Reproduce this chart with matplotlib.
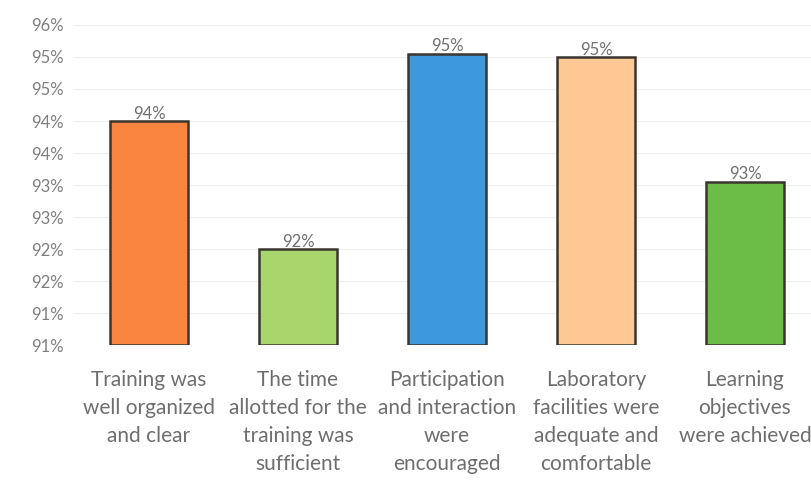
import matplotlib
matplotlib.use("Agg")
import matplotlib.pyplot as plt
from matplotlib.ticker import FuncFormatter, MultipleLocator

categories = [
    "Training was\nwell organized\nand clear",
    "The time\nallotted for the\ntraining was\nsufficient",
    "Participation\nand interaction\nwere\nencouraged",
    "Laboratory\nfacilities were\nadequate and\ncomfortable",
    "Learning\nobjectives\nwere achieved",
]
values = [94.0, 92.0, 95.05, 95.0, 93.05]
value_labels = ["94%", "92%", "95%", "95%", "93%"]
colors = ["#FA8540", "#A8D56C", "#3D98DC", "#FDC894", "#6CBD47"]

plt.rcParams['font.family'] = ['Lato', 'DejaVu Sans']

fig = plt.figure(figsize=(8.12, 4.8), dpi=100)
ax = fig.add_axes([0.0917, 0.281, 0.9175, 0.667])

ymin, ymax = 90.5, 95.5
x = list(range(len(categories)))
bars = ax.bar(x, [v - ymin for v in values], bottom=ymin, width=0.52,
              color=colors, edgecolor="#3b3530", linewidth=1.8, zorder=3)

for xi, v, lab in zip(x, values, value_labels):
    ax.text(xi, v - 0.01, lab, ha="center", va="bottom", fontsize=12,
            color="#707070", zorder=2)

ax.set_ylim(ymin, ymax)
ax.set_xlim(-0.5, len(categories) - 0.5)
ax.yaxis.set_major_locator(MultipleLocator(0.5))
ax.yaxis.set_major_formatter(FuncFormatter(lambda v, p: f"{int(v + 0.5)}%"))
ax.grid(axis="y", color="#efefef", linewidth=0.8, zorder=0)

ax.set_xticks(x)
ax.set_xticklabels(categories, fontsize=15, color="#6e6e6e", linespacing=1.5,
                   va="top")
ax.tick_params(axis="x", length=0, pad=18)
ax.tick_params(axis="y", length=0, labelsize=12, labelcolor="#7f7f7f", pad=8)
for s in ax.spines.values():
    s.set_visible(False)

fig.savefig("out.png", dpi=100, facecolor="white")
